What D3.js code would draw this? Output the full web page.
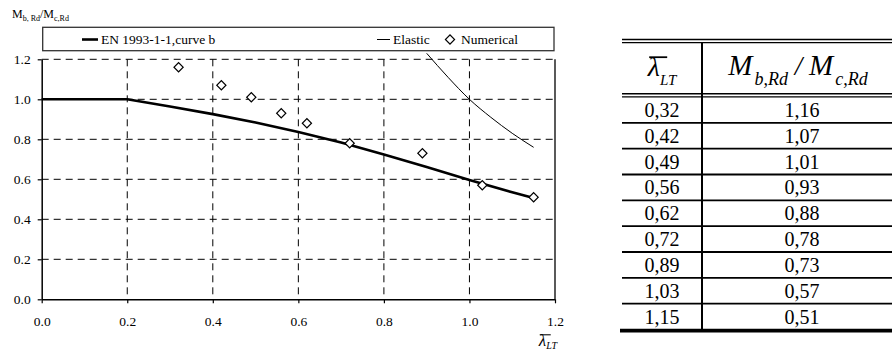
<!DOCTYPE html>
<html>
<head>
<meta charset="utf-8">
<script src="https://cdn.jsdelivr.net/npm/d3@7"></script>
<style>
  body { margin: 0; background: #fff; }
  svg { display: block; font-family: "Liberation Serif", "Times New Roman", serif; }
</style>
</head>
<body>
<svg id="chart" width="892" height="351"></svg>
<script>
// Numerical results (also the table)
const numLambda = [0.32, 0.42, 0.49, 0.56, 0.62, 0.72, 0.89, 1.03, 1.15];
const numRatio = [1.16, 1.07, 1.01, 0.93, 0.88, 0.78, 0.73, 0.57, 0.51];

// EN 1993-1-1 curve b
const curveLambda = [0, 0.2, 0.3, 0.4, 0.5, 0.6, 0.7, 0.8, 0.9, 1.0, 1.1, 1.15];
const curveRatio = [1.0, 1.0, 0.964, 0.926, 0.884, 0.837, 0.784, 0.724, 0.661, 0.597, 0.535, 0.506];

// Elastic curve
const elasticLambda = [0.90, 0.95, 1.00, 1.05, 1.10, 1.15];
const elasticRatio = [1.23, 1.11, 1.00, 0.91, 0.83, 0.76];

// Axis ticks
const xTicks = [0, 0.2, 0.4, 0.6, 0.8, 1.0, 1.2];
const yTicks = [0, 0.2, 0.4, 0.6, 0.8, 1.0, 1.2];

const legendLabels = ["EN 1993-1-1,curve b", "Elastic", "Numerical"];

const svg = d3.select("#chart");

// Plot area
const pLeft = 41.7, pRight = 555, pTop = 59.3, pBottom = 299.3;
const x = d3.scaleLinear().domain([0, 1.2]).range([pLeft, pRight]);
const y = d3.scaleLinear().domain([0, 1.2]).range([pBottom, pTop]);

// Grid lines (dashed)
const grid = svg.append("g")
    .attr("stroke", "#000")
    .attr("stroke-width", 1)
    .attr("stroke-dasharray", "7,5");

grid.selectAll("line.h")
    .data(yTicks.filter(d => d > 0))
    .join("line")
    .attr("class", "h")
    .attr("x1", pLeft).attr("x2", pRight)
    .attr("y1", d => y(d)).attr("y2", d => y(d));

grid.selectAll("line.v")
    .data(xTicks.filter(d => d > 0 && d < 1.2))
    .join("line")
    .attr("class", "v")
    .attr("y1", pTop).attr("y2", pBottom)
    .attr("x1", d => x(d)).attr("x2", d => x(d));

// Right border (solid)
svg.append("line")
    .attr("x1", x(1.2)).attr("x2", x(1.2))
    .attr("y1", pTop).attr("y2", pBottom)
    .attr("stroke", "#000").attr("stroke-width", 1.3);

// Axes
const fmt = d3.format(".1f");
const xAxis = svg.append("g")
    .attr("transform", `translate(0,${pBottom})`)
    .call(d3.axisBottom(x).tickValues(xTicks).tickFormat(fmt).tickSize(4).tickSizeOuter(0).tickPadding(13));

const yAxis = svg.append("g")
    .attr("transform", `translate(${pLeft},0)`)
    .call(d3.axisLeft(y).tickValues(yTicks).tickFormat(fmt).tickSize(4).tickSizeOuter(0).tickPadding(7));

[xAxis, yAxis].forEach(a => {
    a.attr("font-family", null);
    a.select(".domain").attr("stroke", "#000").attr("stroke-width", 1.5);
    a.selectAll(".tick line").attr("stroke", "#000").attr("stroke-width", 1.2);
    a.selectAll(".tick text")
        .attr("font-size", 13.5)
        .attr("fill", "#000");
});

// EN 1993-1-1 curve b
const enData = curveLambda.map((d, i) => ({ x: d, y: curveRatio[i] }));
svg.append("path")
    .datum(enData)
    .attr("fill", "none")
    .attr("stroke", "#000")
    .attr("stroke-width", 2.6)
    .attr("stroke-linejoin", "round")
    .attr("d", d3.line().x(d => x(d.x)).y(d => y(d.y)));

// Elastic curve
const elData = elasticLambda.map((d, i) => ({ x: d, y: elasticRatio[i] }));
svg.append("path")
    .datum(elData)
    .attr("fill", "none")
    .attr("stroke", "#000")
    .attr("stroke-width", 1)
    .attr("d", d3.line().x(d => x(d.x)).y(d => y(d.y)).curve(d3.curveMonotoneX));

// Numerical points (diamonds)
const diamond = d3.symbol().type(d3.symbolSquare).size(42);
svg.append("g")
    .selectAll("path")
    .data(numLambda.map((d, i) => ({ x: d, y: numRatio[i] })))
    .join("path")
    .attr("d", diamond)
    .attr("transform", d => `translate(${x(d.x)},${y(d.y)}) rotate(45)`)
    .attr("fill", "#fff")
    .attr("stroke", "#000")
    .attr("stroke-width", 1.2);

// Legend
const lg = svg.append("g");
lg.append("rect")
    .attr("x", 42.7).attr("y", 27.3)
    .attr("width", 511.3).attr("height", 23.4)
    .attr("fill", "#fff")
    .attr("stroke", "#333")
    .attr("stroke-width", 1.3);

const legendPos = [82, 377, 445];
const legendTextX = [101, 393, 461];
const ly = 39.5;
lg.append("line")
    .attr("x1", legendPos[0]).attr("x2", legendPos[0] + 16)
    .attr("y1", ly).attr("y2", ly)
    .attr("stroke", "#000").attr("stroke-width", 2.6);
lg.append("line")
    .attr("x1", legendPos[1]).attr("x2", legendPos[1] + 13)
    .attr("y1", ly).attr("y2", ly)
    .attr("stroke", "#000").attr("stroke-width", 1);
lg.append("path")
    .attr("d", diamond)
    .attr("transform", `translate(${legendPos[2] + 5},${ly}) rotate(45)`)
    .attr("fill", "#fff").attr("stroke", "#000").attr("stroke-width", 1.2);

lg.selectAll("text")
    .data(legendLabels)
    .join("text")
    .attr("x", (d, i) => legendTextX[i])
    .attr("y", ly + 4.8)
    .attr("font-size", 13.5)
    .text(d => d);

// Y axis title
const yt = svg.append("text").attr("x", 12).attr("y", 18).attr("font-size", 12);
yt.append("tspan").text("M");
yt.append("tspan").attr("font-size", 8).attr("dy", 3).text("b, Rd");
yt.append("tspan").attr("dy", -3).text("/M");
yt.append("tspan").attr("font-size", 8).attr("dy", 3).text("c,Rd");

// lambda with bar and LT subscript
function lambdaBar(g, cx, baseline, size, subSize, subDy, barW) {
    const t = g.append("text")
        .attr("x", cx).attr("y", baseline)
        .attr("text-anchor", "middle")
        .attr("font-style", "italic")
        .attr("font-size", size);
    t.append("tspan").text("λ");
    t.append("tspan").attr("font-size", subSize).attr("dy", subDy).text("LT");
    const ext = t.node().getExtentOfChar(0);
    g.append("line")
        .attr("x1", ext.x + ext.width * 0.12).attr("x2", ext.x + ext.width * 0.12 + barW)
        .attr("y1", ext.y + ext.height * 0.2).attr("y2", ext.y + ext.height * 0.2)
        .attr("stroke", "#000").attr("stroke-width", size / 16);
}
lambdaBar(svg, 548, 346, 17, 10, 3, 11);

// Table
const tfmt = d3.formatLocale({ decimal: ",", thousands: ".", grouping: [3], currency: ["", ""] }).format(".2f");
const tLeft = 622, tRight = 892, tDiv = 702;
const colL = 662, colR = 802;
const tbl = svg.append("g");

const hLine = (yy, w, x1 = tLeft) => tbl.append("line")
    .attr("x1", x1).attr("x2", tRight)
    .attr("y1", yy).attr("y2", yy)
    .attr("stroke", "#000").attr("stroke-width", w);

hLine(39.5, 1.4);
hLine(42.6, 1.4);
hLine(93.8, 1.4);
hLine(96.9, 1.4);

const rows = d3.scaleBand().domain(d3.range(numLambda.length)).range([97, 329.5]);

tbl.selectAll("line.row")
    .data(d3.range(numLambda.length - 1))
    .join("line")
    .attr("class", "row")
    .attr("x1", tLeft).attr("x2", tRight)
    .attr("y1", d => rows(d) + rows.bandwidth())
    .attr("y2", d => rows(d) + rows.bandwidth())
    .attr("stroke", "#000").attr("stroke-width", 1.8);

hLine(330.6, 3.6, 620);

tbl.append("line")
    .attr("x1", tDiv).attr("x2", tDiv)
    .attr("y1", 42.6).attr("y2", 329)
    .attr("stroke", "#000").attr("stroke-width", 2);

tbl.selectAll("text.l")
    .data(numLambda)
    .join("text")
    .attr("class", "l")
    .attr("x", colL)
    .attr("y", (d, i) => rows(i) + rows.bandwidth() / 2 + 7)
    .attr("text-anchor", "middle")
    .attr("font-size", 20)
    .text(d => tfmt(d));

tbl.selectAll("text.r")
    .data(numRatio)
    .join("text")
    .attr("class", "r")
    .attr("x", colR)
    .attr("y", (d, i) => rows(i) + rows.bandwidth() / 2 + 7)
    .attr("text-anchor", "middle")
    .attr("font-size", 20)
    .text(d => tfmt(d));

// Header
lambdaBar(tbl, 662, 76, 28, 15, 9, 18);

const mh = tbl.append("text")
    .attr("x", 798).attr("y", 75)
    .attr("text-anchor", "middle")
    .attr("font-style", "italic")
    .attr("font-size", 29);
mh.append("tspan").text("M");
mh.append("tspan").attr("font-size", 18).attr("dy", 10).attr("dx", 2).text("b,Rd");
mh.append("tspan").attr("dy", -10).attr("font-size", 27).text(" / ");
mh.append("tspan").text("M");
mh.append("tspan").attr("font-size", 18).attr("dy", 10).attr("dx", 2).text("c,Rd");
</script>
</body>
</html>
